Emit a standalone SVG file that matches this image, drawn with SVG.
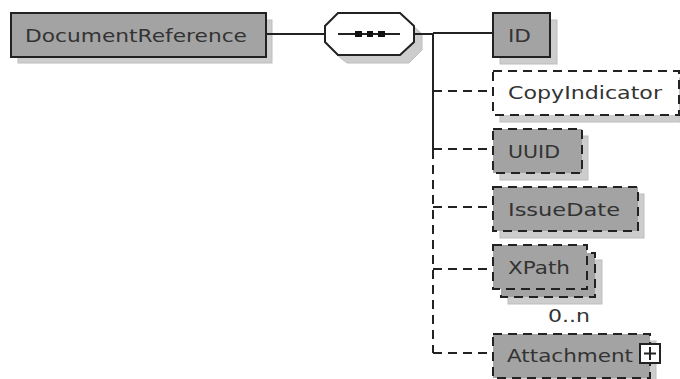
<svg xmlns="http://www.w3.org/2000/svg" width="680" height="379" viewBox="0 0 680 379">
<style>
.sh{fill:#cdcdcd;stroke:#bdbdbd;stroke-width:1}
.fill{fill:#a3a3a3}
.box{fill:#a3a3a3;stroke:#222;stroke-width:2}
.dbox{stroke:#222;stroke-width:2;stroke-dasharray:9 6}
.line{fill:none;stroke:#222;stroke-width:2}
.dash{fill:none;stroke:#222;stroke-width:2;stroke-dasharray:9 6}
text{font-family:"DejaVu Sans",sans-serif;font-size:18px;fill:#333}
</style>
<g id="DocumentReference">
<rect class="sh" x="18" y="20" width="254" height="43"/>
<rect class="box" x="11" y="13" width="255" height="44"/>
<text x="25" y="42" textLength="222" lengthAdjust="spacingAndGlyphs">DocumentReference</text>
</g>
<g id="sequence">
<path class="sh" d="M339 22H409L422 34V50L409 63H347L337 55Z"/>
<path d="M338 13H400L414 26V42L400 55H338L325 42V26Z" fill="#fff" stroke="#222" stroke-width="2"/>
<path class="line" d="M338 34H400"/>
<rect x="355" y="31" width="7" height="6" fill="#111"/>
<rect x="367" y="31" width="6" height="6" fill="#111"/>
<rect x="378" y="31" width="7" height="6" fill="#111"/>
</g>
<g id="ID">
<rect class="sh" x="500" y="20" width="57" height="44"/>
<rect class="box" x="493" y="13" width="57" height="44"/>
<text x="508" y="42" textLength="23" lengthAdjust="spacingAndGlyphs">ID</text>
</g>
<g id="CopyIndicator">
<rect class="sh" x="500" y="78" width="180" height="44"/>
<rect x="493" y="71" width="186" height="44" fill="#fff"/>
<rect class="dbox" x="493" y="71" width="186" height="44" fill="none"/>
<text x="508" y="99" textLength="154" lengthAdjust="spacingAndGlyphs">CopyIndicator</text>
</g>
<g id="UUID">
<rect class="sh" x="500" y="136" width="88" height="44"/>
<rect class="fill" x="493" y="129" width="89" height="44"/>
<rect class="dbox" x="493" y="129" width="89" height="44" fill="none"/>
<text x="508" y="158" textLength="52" lengthAdjust="spacingAndGlyphs">UUID</text>
</g>
<g id="IssueDate">
<rect class="sh" x="500" y="194" width="144" height="44"/>
<rect class="fill" x="493" y="187" width="145" height="44"/>
<rect class="dbox" x="493" y="187" width="145" height="44" fill="none"/>
<text x="508" y="216" textLength="112" lengthAdjust="spacingAndGlyphs">IssueDate</text>
</g>
<g id="XPath">
<rect class="sh" x="508" y="260" width="94" height="44"/>
<rect class="fill" x="501" y="253" width="94" height="44"/>
<rect class="dbox" x="501" y="253" width="94" height="44" fill="none"/>
<rect class="fill" x="493" y="245" width="94" height="44"/>
<rect class="dbox" x="493" y="245" width="94" height="44" fill="none"/>
<text x="508" y="274" textLength="62" lengthAdjust="spacingAndGlyphs">XPath</text>
<text x="548" y="322" textLength="42" lengthAdjust="spacingAndGlyphs">0..n</text>
</g>
<g id="Attachment">
<rect class="sh" x="500" y="341" width="156" height="44"/>
<rect class="fill" x="493" y="334" width="157" height="44"/>
<rect class="dbox" x="493" y="334" width="157" height="44" fill="none"/>
<text x="507" y="362" textLength="126" lengthAdjust="spacingAndGlyphs">Attachment</text>
<rect x="640" y="344" width="20" height="19" fill="#fff" stroke="#222" stroke-width="2"/>
<path class="line" d="M644 353.500H656M650 347V360"/>
</g>
<g id="connectors">
<path class="line" d="M266 34H325M414 34H433M433 33H493M433 33V150"/>
<path class="dash" d="M433 91H493M433 149H493M433 207H493M433 269H493M433 353H493M433 150V353"/>
<path class="line" d="M433 207h5M433 269h5M433 353h5"/>
</g>
</svg>
